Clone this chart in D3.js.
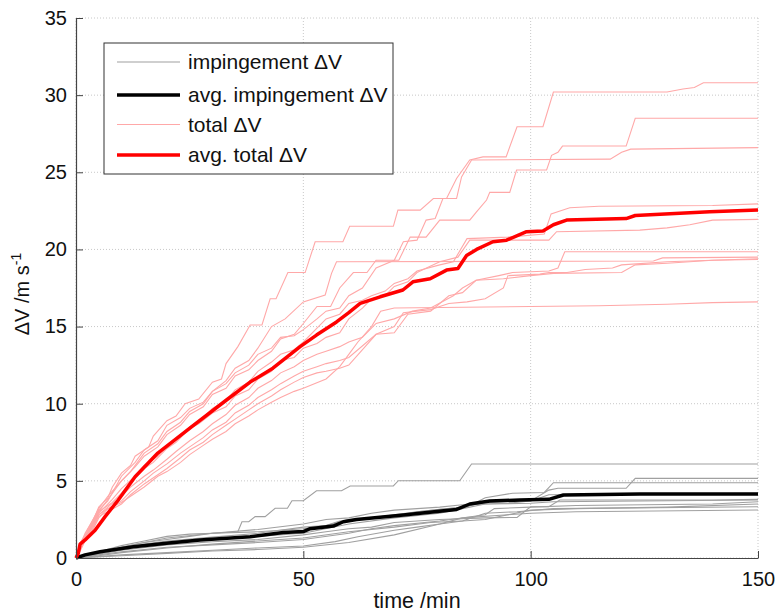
<!DOCTYPE html>
<html>
<head>
<meta charset="utf-8">
<script src="https://cdn.jsdelivr.net/npm/d3@7"></script>
<style>
  body { margin: 0; background: #fff; }
  text { font-family: "Liberation Sans", Arial, sans-serif; fill: #111; }
</style>
</head>
<body>
<div id="vis"></div>
<script>
// tick values
var xTicks = [0, 50, 100, 150];
var yTicks = [0, 5, 10, 15, 20, 25, 30, 35];

// total dV per run, [time /min, dV m/s]
var total1 = [[0,0],[1,0.9],[2,1.6],[4,2.6],[5,3.3],[7,3.9],[8,4.6],[10,5.5],[12,6.0],[13,6.6],[16,7.2],[17,7.9],[20,8.9],[22,9.2],[24,10.0],[27,10.3],[30,11.4],[32,11.6],[33,12.6],[35.6,13.7],[38.3,15.1],[40.9,15.1],[42.7,16.8],[44,16.8],[46.6,18.5],[50.4,18.5],[52.6,20.5],[58.7,20.5],[60.2,21.5],[69.8,21.5],[70.8,22.55],[75.7,22.55],[78.6,23.3],[81.5,23.3],[83.7,24.6],[86.6,25.8],[89.5,26.0],[94.6,26.0],[97,27.95],[102.7,27.95],[105,30.2],[130,30.2],[133.5,30.4],[136,30.5],[138,30.8],[150,30.8]];
var total2 = [[0,0],[1,0.7],[2,1.3],[5,3.0],[7,3.8],[10,5.0],[13,5.9],[15,6.6],[18,7.2],[20,8.0],[23,8.6],[25,9.3],[28,9.8],[30,10.6],[33,11.0],[35,11.8],[38,12.2],[40,12.8],[43,13.4],[45,14.2],[48,14.5],[50,15.2],[53,16.3],[56,16.3],[58,17.5],[61,18.5],[64,18.5],[66,19.3],[71,19.3],[73.5,20.8],[77,20.8],[80,21.9],[86.6,21.9],[88,22.4],[90.3,23.2],[91,23.7],[95.4,23.7],[96.9,25.15],[103.5,25.15],[104.6,26.1],[106,26.3],[107,26.7],[121,26.7],[123,28.5],[150,28.5]];
var total3 = [[0,0],[1,0.8],[2,1.4],[5,3.1],[7,3.7],[10,5.3],[13,6.2],[15,7.0],[18,7.6],[20,8.6],[23,9.1],[25,9.7],[28,10.1],[30,10.8],[33,11.3],[35,12.0],[38,12.5],[40,13.2],[43,13.6],[45,14.3],[48,14.4],[50,14.8],[53,15.5],[55,16.0],[58,16.2],[60,17.0],[63,17.5],[66,18.8],[70,19.3],[72,20.5],[75,20.6],[77,21.9],[79,22.0],[80.7,23.3],[83.7,23.3],[84.8,24.7],[87,25.8],[117.5,25.85],[120,26.3],[122,26.5],[150,26.6]];
var total4 = [[0,0],[1,0.6],[2,1.2],[5,2.9],[8,3.8],[10,4.5],[13,5.3],[15,6.0],[18,6.6],[20,7.3],[23,7.9],[25,8.5],[28,9.1],[30,9.7],[33,10.2],[35,10.9],[38,11.4],[40,12.1],[43,12.7],[45,13.2],[48,13.5],[50,14.0],[53,14.9],[55,15.5],[58,15.8],[60,16.5],[63,16.7],[65,17.0],[68,17.3],[70,17.8],[73,18.1],[75,18.6],[80,19.0],[83,19.2],[86,20.7],[95,20.8],[103,21.0],[104.5,22.3],[108.6,22.7],[115,22.8],[140,22.85],[150,22.95]];
var total5 = [[0,0],[1,0.8],[2,1.4],[4,2.4],[5,3.0],[8,3.6],[10,4.2],[12,4.9],[15,5.8],[17,6.2],[20,7.1],[22,7.5],[25,8.4],[27,8.7],[30,9.4],[33,9.8],[35,10.5],[38,10.9],[40,11.6],[43,12.1],[45,12.8],[48,13.0],[50,13.6],[53,13.9],[55,14.3],[58,14.6],[60,15.5],[63,16.2],[65,16.8],[68,17.0],[70,17.6],[73,17.9],[75,18.5],[80,19.2],[84,19.5],[86.6,20.6],[104,20.6],[105.7,21.15],[124,21.25],[130,21.4],[135,21.6],[140,21.9],[150,21.95]];
var total6 = [[0,0],[1,1.0],[2,1.5],[5,3.2],[7,4.0],[10,5.0],[12,5.6],[15,6.8],[18,7.4],[20,8.2],[23,8.8],[25,9.5],[28,10.0],[30,10.8],[33,11.5],[35,12.3],[38,12.8],[40,13.6],[43,15.0],[46,15.5],[50,16.6],[54.8,17.05],[56.2,18.45],[57.3,19.2],[127,19.25],[129,19.45],[150,19.5]];
var total7 = [[0,0],[1,0.6],[2,1.2],[4,2.2],[5,2.8],[7,3.3],[10,4.0],[12,4.6],[15,5.3],[17,5.7],[20,6.4],[22,6.9],[25,7.6],[28,8.2],[30,8.7],[33,9.3],[35,9.9],[38,10.4],[40,11.0],[43,11.5],[45,12.0],[48,12.4],[50,12.8],[53,13.2],[55,13.4],[58,13.7],[60,14.0],[63,14.3],[66,15.2],[70,15.5],[74,16.0],[78,16.2],[83,17.0],[85,17.5],[88,18.0],[93,18.3],[96,18.5],[104,18.6],[106,18.8],[107.5,19.85],[150,19.85]];
var total8 = [[0,0],[1,0.5],[2,1.1],[4,2.0],[5,2.6],[7,3.2],[10,3.7],[12,4.3],[15,5.0],[17,5.5],[20,6.1],[23,6.8],[25,7.2],[28,7.8],[30,8.3],[33,8.8],[35,9.4],[38,9.9],[40,10.4],[43,10.9],[45,11.3],[48,11.8],[50,12.1],[53,12.4],[55,12.6],[58,12.8],[60,13.0],[66,14.5],[70,15.0],[72,15.9],[78,16.1],[80,16.3],[82,16.5],[86,16.6],[90,16.8],[94,17.5],[95,18.3],[102,18.4],[104,18.5],[108,18.5],[112,18.7],[118,18.8],[120,19.0],[130,19.2],[140,19.3],[150,19.35]];
var total9 = [[0,0],[1,0.6],[2,1.2],[4,2.1],[5,2.7],[7,3.0],[10,3.5],[12,4.1],[15,4.8],[18,5.4],[20,5.8],[23,6.5],[25,7.0],[28,7.5],[30,8.0],[33,8.6],[35,9.0],[38,9.6],[40,10.0],[43,10.5],[45,10.9],[48,11.4],[50,11.7],[53,12.0],[55,12.1],[58,12.3],[60,12.5],[66,14.5],[70,14.6],[73,15.8],[78,16.0],[82,17.0],[85,17.2],[88,18.0],[94,18.1],[100,18.3],[105,18.45],[120,18.5],[123,19.0],[130,19.1],[140,19.3],[150,19.4]];
var total10 = [[0,0],[1,0.7],[2,1.3],[4,2.3],[5,2.8],[7,3.2],[10,3.6],[12,4.0],[15,4.6],[18,5.3],[20,5.6],[23,6.2],[25,6.7],[28,7.3],[30,7.7],[33,8.2],[35,8.7],[38,9.2],[40,9.6],[43,10.1],[45,10.4],[48,10.8],[50,11.0],[55,11.6],[58,12.4],[60,13.2],[62,14.0],[65,15.0],[67,16.0],[70,16.2],[100,16.3],[115,16.35],[130,16.45],[140,16.55],[150,16.6]];
var totalAvg = [[0,0],[0.5,0.3],[0.9,0.9],[2,1.17],[4.2,1.8],[6.4,2.68],[9.3,3.76],[13,5.27],[18,6.8],[25.4,8.5],[33.1,10.24],[38.3,11.4],[43.3,12.3],[49.3,13.7],[52.9,14.45],[57.3,15.3],[60,15.9],[62.5,16.5],[66.9,16.93],[71.9,17.37],[74.1,17.9],[77.9,18.1],[81.5,18.66],[84,18.77],[85.9,19.6],[88.1,20.0],[91.7,20.5],[94.7,20.6],[99.1,21.15],[102.7,21.2],[105,21.6],[107.9,21.9],[121,22.0],[123,22.2],[139.4,22.45],[150,22.55]];

// impingement dV per run
var imp1 = [[0,0],[2,0.1],[5,0.3],[10,0.7],[15,1.0],[20,1.2],[25,1.4],[30,1.6],[35.6,1.7],[36.5,2.35],[38,2.35],[39.4,2.68],[41.6,2.68],[43.8,3.22],[46.5,3.22],[47.5,3.71],[50,3.71],[52.9,4.36],[58.4,4.36],[60.3,4.67],[69.8,4.67],[70.9,5.01],[84.4,5.01],[87,6.09],[150,6.09]];
var imp2 = [[0,0],[5,0.35],[10,0.7],[15,1.0],[20,1.3],[30,1.6],[40,1.85],[50,2.2],[55,2.5],[60,2.6],[65,2.9],[70,3.1],[75,3.2],[80,3.3],[85,3.45],[90,3.5],[95,3.55],[100,3.7],[104,4.4],[106,4.52],[121,4.52],[123,5.16],[150,5.16]];
var imp3 = [[0,0],[5,0.3],[10,0.6],[15,0.9],[20,1.1],[30,1.35],[40,1.6],[50,2.0],[55,2.1],[58,2.4],[65,2.6],[70,2.8],[75,3.0],[80,3.15],[86,3.3],[88,3.6],[90,3.9],[96,4.2],[103,4.25],[105,4.88],[150,4.88]];
var imp4 = [[0,0],[5,0.4],[10,0.8],[15,1.1],[20,1.4],[25,1.55],[30,1.6],[40,1.7],[50,1.9],[55,2.1],[60,2.5],[70,2.7],[75,3.0],[85,3.3],[90,3.6],[95,3.65],[100,3.7],[104,4.1],[150,4.2]];
var imp5 = [[0,0],[5,0.25],[10,0.5],[20,0.85],[30,1.05],[40,1.2],[50,1.5],[55,1.7],[60,1.9],[65,2.0],[70,2.3],[80,2.5],[90,2.6],[97,2.63],[100,3.32],[104,3.32],[106.4,3.76],[140,3.76],[150,3.8]];
var imp6 = [[0,0],[5,0.3],[10,0.65],[20,1.05],[30,1.25],[40,1.4],[50,1.6],[60,2.2],[70,2.6],[80,2.9],[85,3.2],[90,3.5],[100,3.55],[105,3.65],[150,3.76]];
var imp7 = [[0,0],[5,0.2],[10,0.4],[20,0.7],[30,0.85],[40,1.0],[50,1.2],[60,1.6],[65,1.9],[70,2.1],[80,2.4],[90,2.8],[92,3.2],[100,3.3],[110,3.4],[140,3.5],[150,3.65]];
var imp8 = [[0,0],[5,0.15],[10,0.35],[20,0.65],[30,0.9],[40,1.1],[50,1.3],[60,1.7],[70,2.0],[78,2.3],[85,2.4],[90,2.5],[95,2.8],[100,3.1],[110,3.2],[130,3.3],[150,3.5]];
var imp9 = [[0,0],[10,0.2],[20,0.35],[30,0.5],[40,0.65],[50,0.78],[57,1.06],[62,1.38],[70,1.8],[75,2.0],[80,2.2],[85,2.4],[90,2.9],[97,3.0],[105,3.2],[150,3.32]];
var imp10 = [[0,0],[10,0.15],[20,0.3],[30,0.45],[40,0.55],[50,0.7],[60,1.0],[70,1.5],[80,2.2],[85,2.6],[95,2.8],[100,2.9],[110,3.0],[150,3.11]];
var impAvg = [[0,0],[2,0.2],[5.3,0.41],[12.6,0.73],[19.9,0.95],[27.3,1.17],[38.3,1.38],[45.6,1.65],[50,1.71],[51.5,1.9],[56.6,2.07],[58.8,2.35],[61.7,2.5],[72,2.79],[83.7,3.15],[86.6,3.5],[91,3.69],[97.6,3.76],[104,3.8],[107.2,4.08],[124,4.15],[150,4.15]];

var impRuns = [imp1, imp2, imp3, imp4, imp5, imp6, imp7, imp8, imp9, imp10];
var totalRuns = [total1, total2, total3, total4, total5, total6, total7, total8, total9, total10];

var legendNames = ["impingement \u0394V", "avg. impingement \u0394V", "total \u0394V", "avg. total \u0394V"];

var W = 778, H = 612;
var margin = {top: 18, right: 20, bottom: 54, left: 76};
var width = W - margin.left - margin.right;
var height = H - margin.top - margin.bottom;

var x = d3.scaleLinear().domain([0, 150]).range([0, width]);
var y = d3.scaleLinear().domain([0, 35]).range([height, 0]);

var svg = d3.select("#vis").append("svg")
    .attr("width", W)
    .attr("height", H)
  .append("g")
    .attr("transform", "translate(" + margin.left + "," + margin.top + ")");

// grid
svg.append("g").selectAll("line").data(xTicks).enter().append("line")
    .attr("x1", function(d) { return x(d); }).attr("x2", function(d) { return x(d); })
    .attr("y1", 0).attr("y2", height)
    .attr("stroke", "#c8c8c8").attr("stroke-dasharray", "1,2");
svg.append("g").selectAll("line").data(yTicks).enter().append("line")
    .attr("y1", function(d) { return y(d); }).attr("y2", function(d) { return y(d); })
    .attr("x1", 0).attr("x2", width)
    .attr("stroke", "#c8c8c8").attr("stroke-dasharray", "1,2");

var line = d3.line()
    .x(function(d) { return x(d[0]); })
    .y(function(d) { return y(d[1]); });

svg.append("g").selectAll("path").data(impRuns).enter().append("path")
    .attr("d", line).attr("fill", "none")
    .attr("stroke", "#a0a0a0").attr("stroke-width", 1.1);
svg.append("path").datum(impAvg).attr("d", line).attr("fill", "none")
    .attr("stroke", "#000").attr("stroke-width", 3.5).attr("stroke-linejoin", "round");

svg.append("g").selectAll("path").data(totalRuns).enter().append("path")
    .attr("d", line).attr("fill", "none")
    .attr("stroke", "#ffa8a8").attr("stroke-width", 1.1);
svg.append("path").datum(totalAvg).attr("d", line).attr("fill", "none")
    .attr("stroke", "#ff0000").attr("stroke-width", 3.5).attr("stroke-linejoin", "round");

// axes (ticks inward)
var xAxis = svg.append("g")
    .attr("transform", "translate(0," + height + ")")
    .call(d3.axisBottom(x).tickValues(xTicks).tickSize(-7).tickPadding(14).tickSizeOuter(0));
var yAxis = svg.append("g")
    .call(d3.axisLeft(y).tickValues(yTicks).tickSize(-7).tickPadding(9).tickSizeOuter(0));
[xAxis, yAxis].forEach(function(a) {
  a.select(".domain").attr("stroke", "#444").attr("stroke-width", 1.2);
  a.selectAll(".tick line").attr("stroke", "#444");
  a.selectAll("text").attr("font-size", 20).attr("fill", "#111")
    .attr("font-family", "Liberation Sans, Arial, sans-serif");
});

svg.append("text")
    .attr("x", width / 2).attr("y", height + 50)
    .attr("text-anchor", "middle").attr("font-size", 21.5)
    .text("time /min");

var yl = svg.append("text")
    .attr("transform", "translate(-47," + (height / 2 + 6) + ") rotate(-90)")
    .attr("text-anchor", "middle").attr("font-size", 20);
yl.append("tspan").text("\u0394V /m s");
yl.append("tspan").attr("dy", -8).attr("font-size", 14).text("-1");

// legend
var lg = svg.append("g").attr("transform", "translate(28,25)");
lg.append("rect").attr("width", 289).attr("height", 131)
    .attr("fill", "#fff").attr("stroke", "#333").attr("stroke-width", 1);
var lgStroke = ["#a0a0a0", "#000", "#ffa8a8", "#ff0000"];
var lgWidth = [1.1, 3.5, 1.1, 3.5];
var lgRows = [19, 52, 81.5, 112];
legendNames.forEach(function(name, i) {
  lg.append("line").attr("x1", 13).attr("x2", 76)
      .attr("y1", lgRows[i]).attr("y2", lgRows[i])
      .attr("stroke", lgStroke[i]).attr("stroke-width", lgWidth[i]);
  lg.append("text").attr("x", 84).attr("y", lgRows[i] + 7)
      .attr("font-size", 21).text(name);
});
</script>
</body>
</html>
